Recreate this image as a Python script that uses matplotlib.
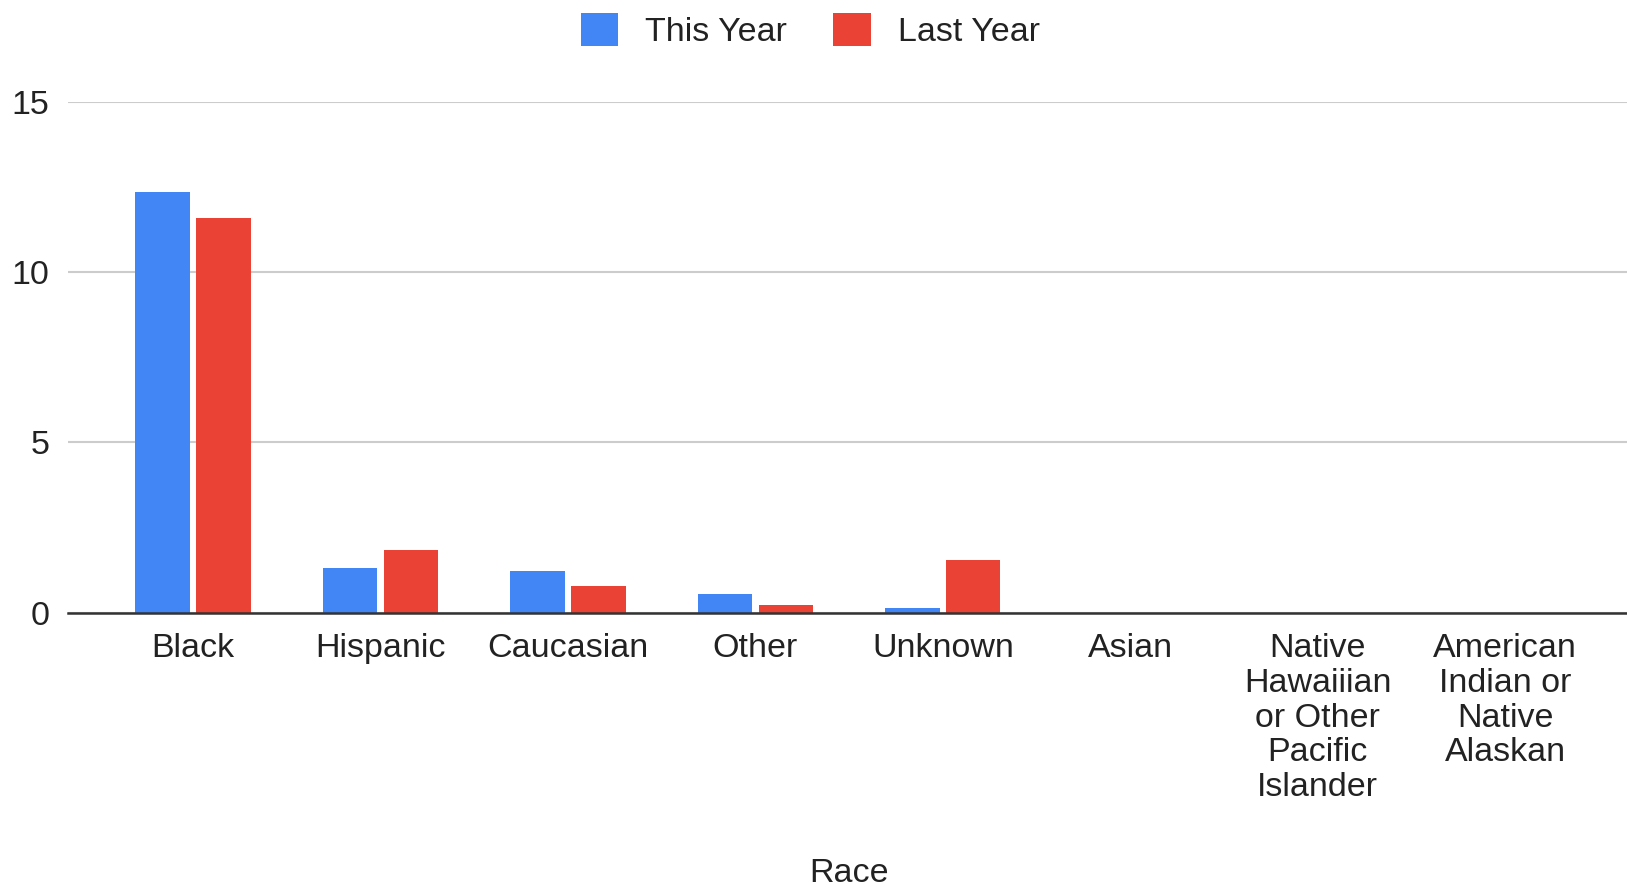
import matplotlib
matplotlib.use("Agg")
import matplotlib.pyplot as plt
import numpy as np

categories = ["Black", "Hispanic", "Caucasian", "Other", "Unknown", "Asian",
              "Native\nHawaiiian\nor Other\nPacific\nIslander",
              "American\nIndian or\nNative\nAlaskan"]
this_year = [12.35, 1.31, 1.22, 0.55, 0.12, 0, 0, 0]
last_year = [11.59, 1.83, 0.79, 0.21, 1.55, 0, 0, 0]
yticks = [0, 5, 10, 15]

plt.rcParams['font.family'] = ['Liberation Sans', 'DejaVu Sans']

fig = plt.figure(figsize=(16.27, 8.89), dpi=100)
ax = fig.add_axes([0.0415, 0.311, 0.9585, 0.5745])

x = np.arange(len(categories))
w = 0.29
off = 0.1625
ax.bar(x - off, this_year, w, color="#4285F4", label="This Year", zorder=3)
ax.bar(x + off, last_year, w, color="#EA4335", label="Last Year", zorder=3)

ax.set_xlim(-0.67, 7.65)
ax.set_ylim(0, 15)
ax.set_yticks(yticks)
ax.set_yticklabels([str(t) for t in yticks])
ax.set_xticks(x)
ax.set_xticklabels(categories, linespacing=1.15, va="top")
ax.tick_params(axis="both", length=0, labelsize=24.5, colors="#222222")
ax.tick_params(axis="y", pad=13)
ax.tick_params(axis="x", pad=15)
ax.grid(axis="y", color="#cccccc", linewidth=1.5, zorder=0)
for s in ["top", "right", "left"]:
    ax.spines[s].set_visible(False)
ax.spines["bottom"].set_color("#333333")
ax.spines["bottom"].set_linewidth(1.8)
ax.spines["bottom"].set_zorder(4)

fig.text(0.522, 0.0, "Race", ha="center", va="bottom", fontsize=24.5, color="#222222")

fig.legend(loc="upper center", bbox_to_anchor=(0.498, 1.02), ncol=2, frameon=False,
           fontsize=24.5, handlelength=1.1, handleheight=1.1, columnspacing=1.35,
           handletextpad=0.8, labelcolor="#222222")

fig.savefig("out.png", dpi=100)
